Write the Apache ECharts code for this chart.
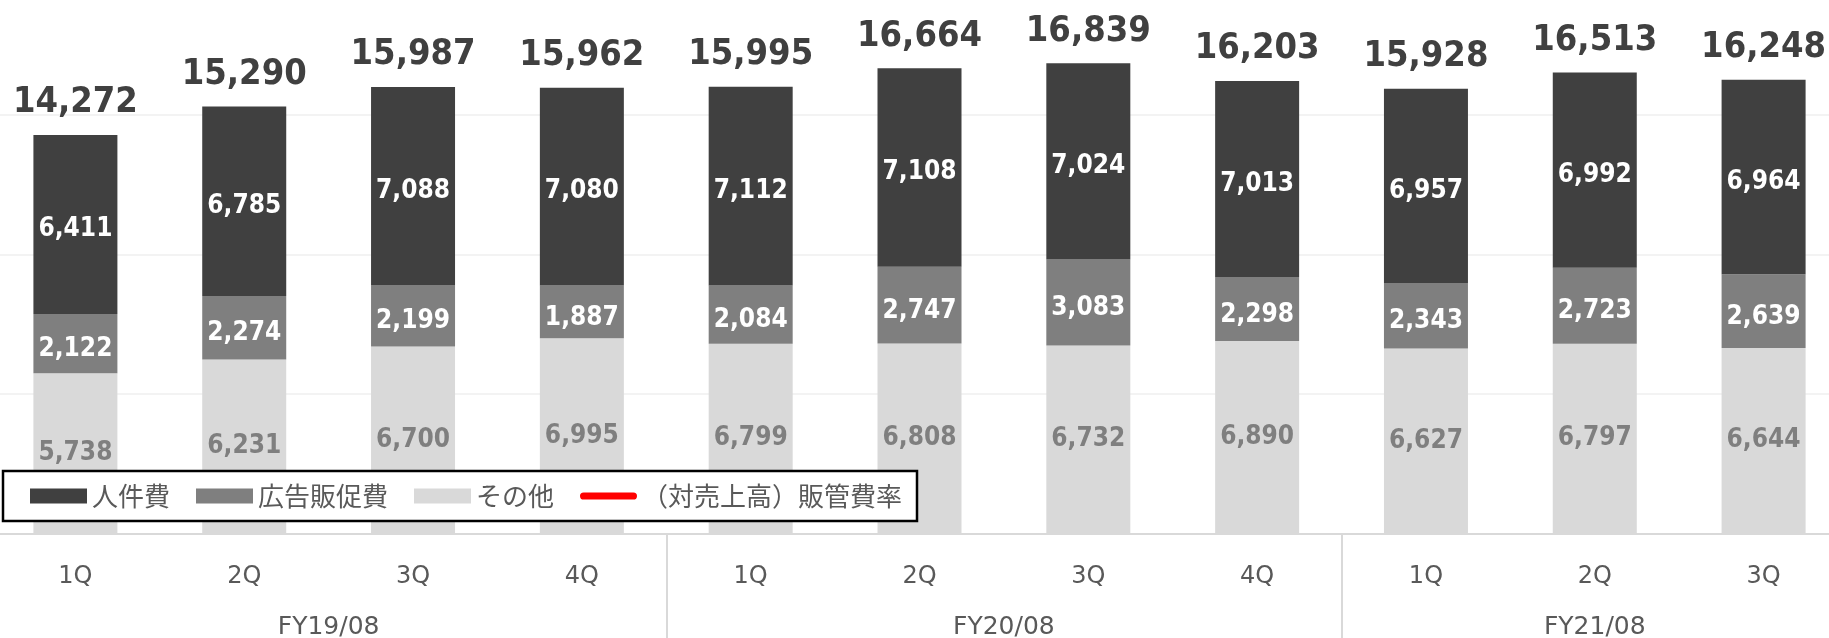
<!DOCTYPE html>
<html>
<head>
<meta charset="utf-8">
<script src="https://cdn.jsdelivr.net/npm/echarts@6/dist/echarts.min.js"></script>
<style>
  html, body { margin: 0; padding: 0; background: #ffffff; }
  #chart { width: 1829px; height: 638px; }
</style>
</head>
<body>
<div id="chart"></div>
<script>
// Quarterly SG&A breakdown (百万円)
const quarters = ['1Q', '2Q', '3Q', '4Q', '1Q', '2Q', '3Q', '4Q', '1Q', '2Q', '3Q'];
const fiscalYears = ['FY19/08', 'FY20/08', 'FY21/08'];
const quartersPerYear = [4, 4, 3];

const personnel = [6411, 6785, 7088, 7080, 7112, 7108, 7024, 7013, 6957, 6992, 6964];
const advertising = [2122, 2274, 2199, 1887, 2084, 2747, 3083, 2298, 2343, 2723, 2639];
const other = [5738, 6231, 6700, 6995, 6799, 6808, 6732, 6890, 6627, 6797, 6644];
const totals = [14272, 15290, 15987, 15962, 15995, 16664, 16839, 16203, 15928, 16513, 16248];
const sgaRatio = [];

const seriesNames = ['人件費', '広告販促費', 'その他', '（対売上高）販管費率'];
const yTicks = { min: 0, max: 20000, interval: 5000 };

// Group centres and separators on a continuous axis aligned with the category bands
const groupCenters = [];
const groupBounds = [];
let start = 0;
quartersPerYear.forEach((n, i) => {
  groupCenters.push(start + (n - 1) / 2);
  if (i < quartersPerYear.length - 1) groupBounds.push(start + n - 0.5);
  start += n;
});

const numFont = '"DejaVu Sans Condensed", "DejaVu Sans", sans-serif';
const fmt = v => Number(v).toLocaleString('en-US');

const chart = echarts.init(document.getElementById('chart'), null, { renderer: 'canvas' });

const segLabel = (color, offsetY) => ({
  show: true,
  position: 'inside',
  color: color,
  fontFamily: numFont,
  fontWeight: 'bold',
  fontSize: 26,
  offset: [0, offsetY],
  formatter: p => fmt(p.value)
});

chart.setOption({
  animation: false,
  backgroundColor: '#ffffff',
  // the plot runs slightly past the canvas on the left, right and top
  grid: {
    left: -9, right: -19, top: -25, bottom: 104.5,
    containLabel: false,
    outerBoundsMode: 'none'
  },
  legend: {
    left: 3,
    top: 471,
    orient: 'horizontal',
    backgroundColor: '#ffffff',
    borderColor: '#000000',
    borderWidth: 2.5,
    padding: [12, 15, 12, 27],
    itemWidth: 57,
    itemHeight: 15,
    itemGap: 26,
    textStyle: { fontFamily: '"Noto Sans CJK JP", sans-serif', fontSize: 26, color: '#595959' },
    data: [
      { name: seriesNames[0], icon: 'rect' },
      { name: seriesNames[1], icon: 'rect' },
      { name: seriesNames[2], icon: 'rect' },
      { name: seriesNames[3], icon: 'path://M4,0 L59,0 A4,4 0 0 1 59,8 L4,8 A4,4 0 0 1 4,0 Z' }
    ]
  },
  xAxis: [
    {
      type: 'category',
      data: quarters,
      axisLine: { show: true, lineStyle: { color: '#d9d9d9', width: 2 } },
      axisTick: { show: false },
      axisLabel: {
        color: '#595959',
        fontFamily: '"DejaVu Sans", sans-serif',
        fontSize: 24,
        lineHeight: 24,
        margin: 31
      },
      splitLine: { show: false }
    },
    {
      type: 'value',
      position: 'bottom',
      min: -0.5,
      max: quarters.length - 0.5,
      axisLine: { show: false },
      splitLine: { show: false },
      axisTick: {
        show: true,
        customValues: groupBounds,
        length: 110,
        lineStyle: { color: '#d9d9d9', width: 2 }
      },
      axisLabel: {
        customValues: groupCenters,
        formatter: v => fiscalYears[groupCenters.indexOf(v)] || '',
        color: '#595959',
        fontFamily: '"DejaVu Sans", sans-serif',
        fontSize: 25,
        lineHeight: 26,
        margin: 81
      }
    }
  ],
  yAxis: {
    type: 'value',
    min: yTicks.min,
    max: yTicks.max,
    interval: yTicks.interval,
    axisLine: { show: false },
    axisTick: { show: false },
    axisLabel: { show: false },
    splitLine: { show: true, lineStyle: { color: '#efefef', width: 1.5 } }
  },
  series: [
    {
      name: seriesNames[2],
      type: 'bar',
      stack: 'sga',
      data: other,
      barWidth: 84,
      barGap: '-100%',
      itemStyle: { color: '#d9d9d9' },
      label: segLabel('#7f7f7f', 0)
    },
    {
      name: seriesNames[1],
      type: 'bar',
      stack: 'sga',
      data: advertising,
      barWidth: 84,
      barGap: '-100%',
      itemStyle: { color: '#7f7f7f' },
      label: segLabel('#ffffff', 6)
    },
    {
      name: seriesNames[0],
      type: 'bar',
      stack: 'sga',
      data: personnel,
      barWidth: 84,
      barGap: '-100%',
      itemStyle: { color: '#404040' },
      label: segLabel('#ffffff', 5)
    },
    {
      name: 'total',
      type: 'bar',
      stack: 'total',
      data: totals,
      barWidth: 84,
      barGap: '-100%',
      silent: true,
      z: 1,
      itemStyle: { color: 'rgba(0,0,0,0)' },
      label: {
        show: true,
        position: 'top',
        distance: 14,
        color: '#404040',
        fontFamily: numFont,
        fontWeight: 'bold',
        fontSize: 36,
        formatter: p => fmt(p.value)
      }
    },
    {
      name: seriesNames[3],
      type: 'line',
      data: sgaRatio,
      color: '#ff0000',
      itemStyle: { color: '#ff0000' },
      lineStyle: { color: '#ff0000', width: 5 }
    }
  ]
});
</script>
</body>
</html>
